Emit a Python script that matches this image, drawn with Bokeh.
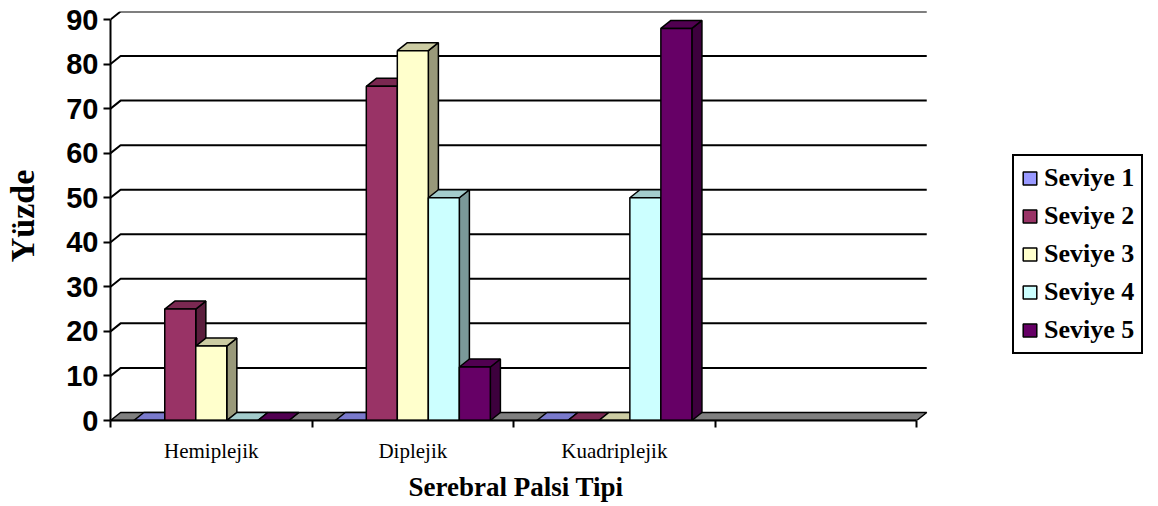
from bokeh.plotting import figure
from bokeh.models import Range1d, FixedTicker, Legend, LegendItem, ColumnDataSource, Title
from bokeh.embed import file_html
from bokeh.resources import INLINE

# ---- data -------------------------------------------------------------
categories = ["Hemiplejik", "Diplejik", "Kuadriplejik", ""]
series_names = ["Seviye 1", "Seviye 2", "Seviye 3", "Seviye 4", "Seviye 5"]
seviye_1 = [0, 0, 0]
seviye_2 = [25, 75, 0]
seviye_3 = [16.7, 83, 0]
seviye_4 = [0, 50, 50]
seviye_5 = [0, 12, 88]
y_ticks = [0, 10, 20, 30, 40, 50, 60, 70, 80, 90]

series_values = [seviye_1, seviye_2, seviye_3, seviye_4, seviye_5]
series_colors = ["#9999FF", "#993366", "#FFFFCC", "#CCFFFF", "#660066"]

# ---- 3-D look: oblique depth offset in data units ---------------------
DX = 0.05      # depth shift along the category axis
DY = 1.8       # depth shift along the value axis
GAP = 1.5      # gap width as a fraction of one bar
N_CAT = len(categories)
Y_MAX = y_ticks[-1]
X_END = 5.19   # frame runs on to the right so the legend sits inside it


def shade(hex_color, f):
    r, g, b = (int(hex_color[i:i + 2], 16) for i in (1, 3, 5))
    return "#%02x%02x%02x" % (int(r * f), int(g * f), int(b * f))


p = figure(
    width=1158, height=506,
    x_range=Range1d(0, X_END), y_range=Range1d(0, Y_MAX + DY),
    output_backend="svg", toolbar_location=None,
    min_border_left=110, min_border_right=2,
    min_border_top=11, min_border_bottom=84,
)
p.outline_line_color = None
p.grid.visible = False
p.background_fill_color = "white"
p.border_fill_color = "white"

# back-wall gridlines with the left-wall diagonals
grid_xs = [[0, DX, N_CAT + DX] for t in y_ticks[1:]]
grid_ys = [[t, t + DY, t + DY] for t in y_ticks[1:]]
p.multi_line(grid_xs, grid_ys, line_color="black", line_width=2)

# floor
p.patch([0, N_CAT, N_CAT + DX, DX], [0, 0, DY, DY],
        fill_color="#808080", line_color="black", line_width=1.5)

# bars, drawn series by series (left to right inside each category)
n_series = len(series_values)
slot = n_series + GAP
legend_items = []
for k, (name, vals, col) in enumerate(zip(series_names, series_values, series_colors)):
    lefts = [c + (GAP / 2 + k) / slot for c in range(len(vals))]
    rights = [l + 1 / slot for l in lefts]

    side_xs = [[r, r + DX, r + DX, r] for r in rights]
    side_ys = [[0, DY, v + DY, v] for v in vals]
    p.patches(side_xs, side_ys, fill_color=shade(col, 0.6),
              line_color="black", line_width=1.5)

    top_xs = [[l, r, r + DX, l + DX] for l, r in zip(lefts, rights)]
    top_ys = [[v, v, v + DY, v + DY] for v in vals]
    p.patches(top_xs, top_ys, fill_color=shade(col, 0.8),
              line_color="black", line_width=1.5)

    src = ColumnDataSource(dict(left=lefts, right=rights, top=vals,
                                bottom=[0] * len(vals)))
    front = p.quad(left="left", right="right", top="top", bottom="bottom",
                   source=src, fill_color=col, line_color="black", line_width=1.5)
    legend_items.append(LegendItem(label=name, renderers=[front]))

# ---- axes -------------------------------------------------------------
yax = p.yaxis[0]
yax.ticker = FixedTicker(ticks=y_ticks)
yax.bounds = (0, Y_MAX)
yax.axis_line_width = 2
yax.major_tick_line_width = 2
yax.major_tick_in = 0
yax.major_tick_out = 7
yax.minor_tick_line_color = None
yax.major_label_text_font = "Liberation Sans"
yax.major_label_text_font_style = "bold"
yax.major_label_text_font_size = "29px"
yax.major_label_text_color = "black"
yax.major_label_standoff = 5
yax.axis_label = "Yüzde"
yax.axis_label_text_font = "Liberation Serif"
yax.axis_label_text_font_style = "bold"
yax.axis_label_text_font_size = "34px"
yax.axis_label_text_color = "black"
yax.axis_label_standoff = 22

xax = p.xaxis[0]
centers = [c + 0.5 for c in range(N_CAT)]
xax.ticker = FixedTicker(ticks=centers, minor_ticks=list(range(N_CAT + 1)))
xax.major_label_overrides = {c: name for c, name in zip(centers, categories)}
xax.bounds = (0, N_CAT)
xax.axis_line_width = 2
xax.major_tick_line_color = None
xax.major_tick_in = 0
xax.major_tick_out = 0
xax.minor_tick_line_width = 2
xax.minor_tick_line_color = "black"
xax.minor_tick_in = 0
xax.minor_tick_out = 7
xax.major_label_text_font = "Liberation Serif"
xax.major_label_text_font_size = "21px"
xax.major_label_text_color = "black"
xax.major_label_standoff = 11

# category-axis title, centred under the four category slots
x_title = Title(
    text="Serebral Palsi Tipi", align="left", offset=298, standoff=9,
    text_font="Liberation Serif", text_font_style="bold",
    text_font_size="27px", text_color="black",
)
p.add_layout(x_title, "below")

# ---- legend -----------------------------------------------------------
legend = Legend(
    items=legend_items, location=(902, 66), margin=0, padding=7,
    spacing=8, glyph_width=17, glyph_height=16, label_standoff=6,
    label_text_font="Liberation Serif", label_text_font_style="bold",
    label_text_font_size="26px", label_text_color="black",
    border_line_color="black", border_line_width=2, border_line_alpha=1.0,
    background_fill_color="white", background_fill_alpha=1.0,
)
p.add_layout(legend)

open("out.html", "w").write(file_html(p, INLINE))
